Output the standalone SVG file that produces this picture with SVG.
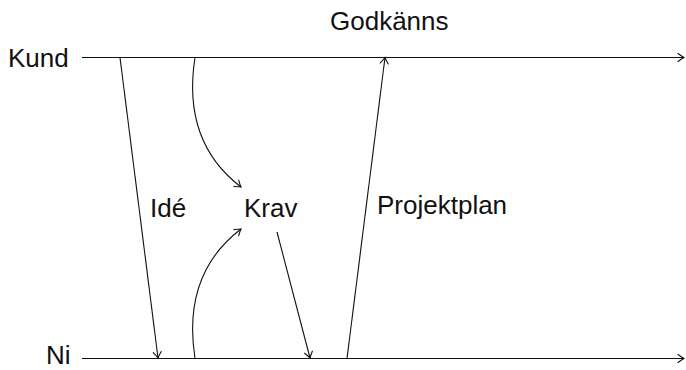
<svg xmlns="http://www.w3.org/2000/svg" width="686" height="370" viewBox="0 0 686 370">
  <style>
    .lbl { font-family: "Liberation Sans", "DejaVu Sans", sans-serif; font-size: 26px; fill: #111; }
    .ln { fill: none; stroke: #111; stroke-width: 1.1; }
  </style>
  <defs>
    <marker id="to" viewBox="-8 -5 10 10" markerWidth="10" markerHeight="10" refX="0" refY="0" orient="auto" markerUnits="userSpaceOnUse">
      <path d="M-6,-4 Q-2,-1 0,0 Q-2,1 -6,4" fill="none" stroke="#111" stroke-width="1.1" stroke-linecap="round"/>
    </marker>
  </defs>

  <g id="timeline-kund">
    <text class="lbl" x="8" y="67">Kund</text>
  </g>
  <g id="timeline-ni">
    <text class="lbl" x="46" y="364">Ni</text>
  </g>
  <g id="label-ide">
    <text class="lbl" x="150" y="217">Idé</text>
  </g>
  <g id="label-krav">
    <text class="lbl" x="244" y="217">Krav</text>
  </g>
  <g id="label-projektplan">
    <text class="lbl" x="377" y="214">Projektplan</text>
  </g>
  <g id="label-godkanns">
    <text class="lbl" x="330" y="30">Godkänns</text>
  </g>

  <g id="connectors">
    <!-- time axes -->
    <line class="ln" x1="82" y1="57.5" x2="684" y2="57.5" marker-end="url(#to)"/>
    <line class="ln" x1="82" y1="358.5" x2="684" y2="358.5" marker-end="url(#to)"/>
    <!-- Idé: Kund to Ni -->
    <line class="ln" x1="120" y1="57.5" x2="158" y2="358" marker-end="url(#to)"/>
    <!-- both parties feed into Krav -->
    <path class="ln" d="M195,57.5 C186,115 203,158 241,187" marker-end="url(#to)"/>
    <path class="ln" d="M195,358.5 C186,301 203,258 241,229" marker-end="url(#to)"/>
    <!-- Krav back to Ni -->
    <line class="ln" x1="277" y1="232" x2="310" y2="358" marker-end="url(#to)"/>
    <!-- Projektplan: Ni to Kund -->
    <line class="ln" x1="347" y1="358.5" x2="385" y2="57.5" marker-end="url(#to)"/>
  </g>
</svg>
